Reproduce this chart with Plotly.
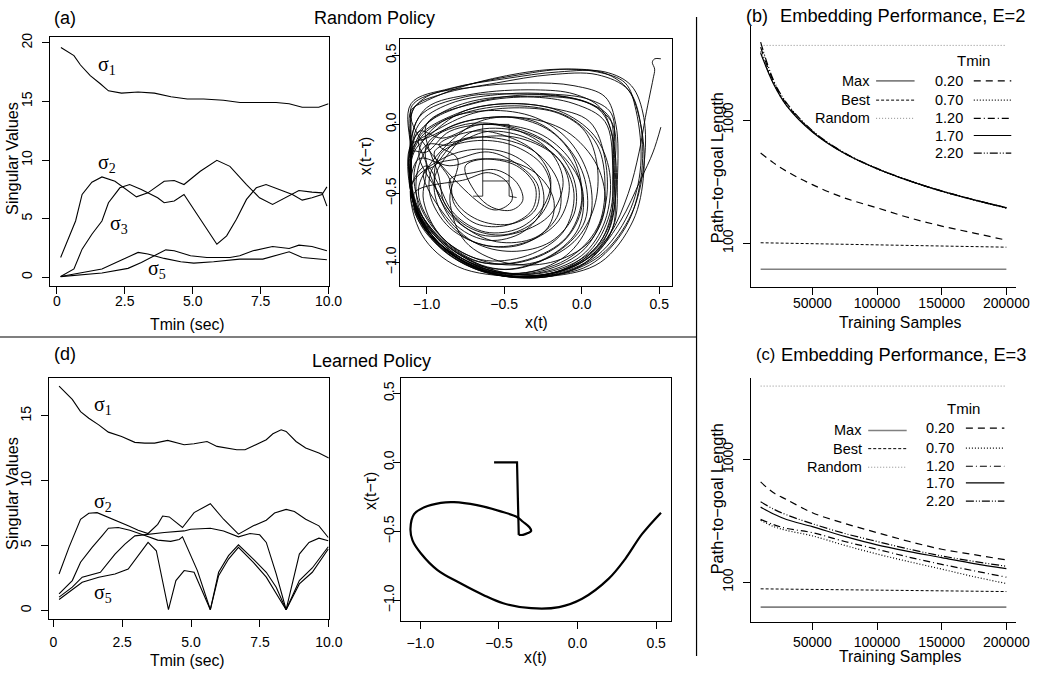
import plotly.graph_objects as go

W, H = 1045, 673
FONT = "Liberation Sans, Arial, sans-serif"
SERIF = "Liberation Serif, Times New Roman, serif"

# ---------------- (a) singular values, random policy ----------------
A_S1_T = [0.15, 0.63, 0.87, 1.23, 1.6, 1.9, 2.38, 2.99, 3.59, 4.2, 4.8, 5.4, 6.13, 6.74, 7.34, 8.07, 8.55, 9.03, 9.64, 10.0]
A_S1_V = [19.6, 18.9, 18.1, 17.2, 16.5, 15.9, 15.7, 15.8, 15.7, 15.4, 15.2, 15.2, 15.1, 14.9, 14.9, 14.9, 14.8, 14.5, 14.5, 14.8]
A_S2_T = [0.14, 0.69, 0.93, 1.29, 1.66, 2.14, 2.93, 3.35, 3.95, 4.32, 4.68, 5.28, 5.89, 6.37, 6.98, 7.46, 7.94, 8.55, 8.91, 9.39, 9.76, 9.94]
A_S2_V = [1.69, 4.8, 7.06, 8.11, 8.56, 8.19, 6.86, 7.2, 8.19, 8.25, 7.91, 9.04, 9.97, 9.46, 7.91, 6.78, 6.21, 6.92, 7.4, 7.26, 7.2, 6.07]
A_S3_T = [0.14, 0.63, 0.93, 1.29, 1.66, 1.9, 2.32, 2.68, 3.11, 3.71, 3.95, 4.32, 4.68, 5.16, 5.52, 5.89, 6.25, 6.61, 6.98, 7.34, 7.7, 8.19, 8.67, 9.03, 9.39, 9.76, 9.94]
A_S3_V = [0.06, 0.71, 2.4, 3.67, 4.8, 6.36, 7.63, 7.91, 7.49, 6.78, 6.36, 6.5, 7.06, 5.37, 4.1, 2.82, 3.53, 4.94, 6.64, 7.63, 7.91, 7.49, 7.06, 6.58, 6.78, 7.06, 7.71]
A_S4_T = [0.14, 0.93, 1.66, 2.14, 2.62, 2.99, 3.35, 3.95, 4.56, 5.04, 5.77, 6.73, 7.58, 8.19, 8.55, 9.03, 9.94]
A_S4_V = [0.06, 0.37, 0.71, 1.21, 1.69, 2.12, 1.98, 1.61, 1.33, 1.21, 1.33, 1.55, 1.55, 1.98, 2.18, 1.69, 1.5]
A_S5_T = [0.14, 0.93, 1.66, 2.62, 3.11, 3.71, 4.01, 4.32, 4.92, 5.52, 6.37, 6.73, 7.22, 7.94, 8.55, 8.91, 9.39, 9.94]
A_S5_V = [0.06, 0.2, 0.37, 0.76, 1.27, 1.98, 2.34, 2.26, 1.84, 1.69, 1.69, 1.84, 2.26, 2.63, 2.46, 2.74, 2.63, 2.26]

# ---------------- (d) singular values, learned policy ----------------
D_S1_T = [0.21, 0.69, 0.99, 1.29, 1.65, 2.0, 2.48, 2.96, 3.32, 3.68, 4.15, 4.51, 4.75, 5.11, 5.58, 5.94, 6.42, 6.66, 6.96, 7.49, 7.73, 7.97, 8.27, 8.45, 8.81, 9.16, 9.64, 10.0]
D_S1_V = [17.3, 16.28, 15.33, 14.82, 14.31, 13.75, 13.42, 12.96, 12.9, 12.9, 13.11, 12.9, 12.78, 12.85, 13.03, 12.65, 12.45, 12.39, 12.39, 12.9, 13.16, 13.62, 13.93, 13.8, 13.03, 12.52, 12.14, 11.76]
D_S2_T = [0.21, 0.57, 0.99, 1.29, 1.59, 1.89, 2.24, 2.72, 3.08, 3.44, 3.79, 3.97, 4.21, 4.69, 5.11, 5.7, 6.18, 6.72, 7.26, 7.73, 8.03, 8.45, 8.75, 9.16, 9.64, 9.98]
D_S2_V = [2.81, 4.86, 7.03, 7.49, 7.54, 7.28, 6.95, 6.52, 6.18, 5.93, 6.64, 7.28, 7.21, 6.39, 7.54, 8.23, 7.03, 5.88, 6.52, 6.95, 7.51, 7.79, 7.62, 7.03, 6.52, 5.62]
D_S3_T = [0.21, 0.69, 0.99, 1.41, 1.77, 2.0, 2.36, 2.78, 3.2, 3.79, 4.26, 4.57, 4.69, 5.23, 5.7, 6.0, 6.36, 6.72, 7.26, 7.73, 8.09, 8.45, 8.93, 9.28, 9.64, 9.98]
D_S3_V = [1.28, 2.3, 3.71, 4.86, 5.75, 6.34, 6.39, 6.18, 5.88, 5.42, 5.32, 5.47, 5.67, 3.07, 0.05, 2.94, 4.22, 5.06, 3.96, 2.94, 1.79, 0.05, 4.34, 5.24, 5.57, 5.37]
D_S4_T = [0.21, 0.69, 1.05, 1.71, 2.24, 2.6, 2.96, 3.44, 4.03, 4.75, 4.99, 5.7, 6.18, 6.72, 7.14, 7.49, 7.73, 8.09, 8.45, 8.93, 9.4, 9.98]
D_S4_V = [1.02, 1.79, 2.56, 2.94, 4.34, 5.11, 5.75, 5.88, 6.01, 6.13, 6.26, 6.34, 6.13, 5.67, 5.93, 5.83, 5.24, 2.81, 0.05, 2.3, 3.27, 4.91]
D_S5_T = [0.21, 1.05, 1.65, 2.24, 2.72, 3.08, 3.44, 3.74, 4.18, 4.45, 4.75, 5.11, 5.41, 5.7, 6.0, 6.36, 6.72, 7.26, 7.73, 8.45, 8.93, 9.4, 9.98]
D_S5_V = [0.84, 2.17, 2.56, 2.81, 3.19, 4.22, 5.24, 4.6, 0.05, 2.3, 3.07, 2.94, 1.53, 0.05, 2.68, 3.96, 4.86, 3.71, 2.56, 0.05, 2.04, 2.94, 4.73]

# ---------------- delay embeddings (x(t), x(t - tau)) ----------------
RANDOM_PATH = [
    (0.51, 0.475), (0.47, 0.475), (0.455, 0.45), (0.47, 0.4), (0.46, 0.33), (0.44, 0.22), (0.41, 0.05),
    (0.37, -0.2), (0.3, -0.5), (0.18, -0.8), (0.0, -1.02), (-0.25, -1.1), (-0.6, -1.08), (-0.88, -0.92),
    (-1.06, -0.65), (-1.1, -0.35), (-1.1, 0.0), (-1.1, 0.12),
    (-1.05, 0.18), (-0.8, 0.27), (-0.45, 0.35), (-0.1, 0.4), (0.15, 0.37), (0.3, 0.25), (0.38, 0.0),
    (0.4, -0.35), (0.33, -0.7), (0.12, -1.0), (-0.2, -1.1), (-0.58, -1.08), (-0.9, -0.88), (-1.08, -0.58),
    (-1.1, -0.2), (-1.1, 0.1),
    (-1.02, 0.16), (-0.75, 0.28), (-0.4, 0.37), (-0.15, 0.4), (0.1, 0.38), (0.28, 0.3), (0.35, 0.1),
    (0.38, -0.3), (0.3, -0.65), (0.1, -0.95), (-0.2, -1.1), (-0.55, -1.08), (-0.86, -0.92), (-1.06, -0.66),
    (-1.1, -0.3),
    (-1.05, 0.0), (-0.85, 0.15), (-0.5, 0.22), (-0.2, 0.22), (0.05, 0.18), (0.19, 0.08), (0.21, -0.2),
    (0.21, -0.6), (0.12, -0.88), (-0.1, -1.05), (-0.45, -1.1), (-0.78, -0.98), (-1.0, -0.75), (-1.1, -0.45),
    (-1.1, -0.15),
    (-0.95, 0.05), (-0.7, 0.17), (-0.35, 0.2), (-0.05, 0.15), (0.15, 0.02), (0.2, -0.3), (0.18, -0.65),
    (0.05, -0.92), (-0.2, -1.08), (-0.55, -1.06), (-0.83, -0.9), (-1.03, -0.66), (-1.1, -0.4), (-1.08, -0.15),
    (-0.95, -0.05), (-0.7, 0.08), (-0.4, 0.12), (-0.15, 0.08), (0.02, -0.05), (0.1, -0.3), (0.08, -0.6),
    (-0.05, -0.85), (-0.3, -1.0), (-0.6, -1.0), (-0.86, -0.86), (-1.03, -0.62), (-1.08, -0.35), (-1.0, -0.15),
    (-0.85, -0.15), (-0.6, -0.05), (-0.35, -0.1), (-0.15, -0.25), (-0.08, -0.45), (-0.15, -0.7),
    (-0.35, -0.85), (-0.6, -0.88), (-0.85, -0.75), (-0.98, -0.5), (-0.95, -0.3),
    (-0.8, -0.25), (-0.6, -0.2), (-0.4, -0.3), (-0.28, -0.45), (-0.3, -0.62), (-0.45, -0.72),
    (-0.65, -0.7), (-0.8, -0.58), (-0.85, -0.4),
    (-0.7, -0.35), (-0.55, -0.33), (-0.42, -0.42), (-0.38, -0.55), (-0.45, -0.62), (-0.58, -0.6), (-0.68, -0.5),
    (-0.75, -0.3), (-0.55, -0.25), (-0.3, -0.35), (-0.18, -0.55), (-0.22, -0.75), (-0.42, -0.88),
    (-0.7, -0.85), (-0.9, -0.65), (-0.95, -0.4), (-0.85, -0.2),
    (-0.7, -0.05), (-0.4, -0.05), (-0.15, -0.2), (0.0, -0.45), (-0.02, -0.75), (-0.2, -0.95), (-0.5, -1.05),
    (-0.78, -0.95), (-1.0, -0.72), (-1.1, -0.45), (-1.08, -0.2), (-0.95, -0.05),
    (-0.75, 0.1), (-0.45, 0.15), (-0.15, 0.1), (0.08, -0.08), (0.18, -0.35), (0.15, -0.7), (0.0, -0.95),
    (-0.3, -1.08), (-0.62, -1.05), (-0.9, -0.86), (-1.08, -0.58), (-1.1, -0.25), (-1.0, 0.0),
    (-0.8, 0.12), (-0.5, 0.2), (-0.2, 0.21), (0.05, 0.15), (0.2, 0.0), (0.21, -0.4), (0.2, -0.75),
    (0.05, -0.98), (-0.25, -1.1), (-0.58, -1.08), (-0.88, -0.9), (-1.07, -0.62), (-1.1, -0.3), (-1.05, -0.05),
    (-0.9, -0.1), (-0.65, 0.0), (-0.4, -0.05), (-0.2, -0.2), (-0.12, -0.42), (-0.2, -0.65), (-0.4, -0.78),
    (-0.65, -0.8), (-0.85, -0.65), (-0.95, -0.4),
    (-0.9, -0.2), (-0.7, -0.12), (-0.45, -0.15), (-0.25, -0.3), (-0.2, -0.5), (-0.3, -0.7), (-0.5, -0.8),
    (-0.72, -0.75), (-0.88, -0.58), (-0.92, -0.38),
    (-1.0, 0.0), (-0.7, 0.15), (-0.35, 0.2), (0.0, 0.17), (0.18, 0.05), (0.2, -0.25), (0.2, -0.6),
    (0.1, -0.88), (-0.15, -1.05), (-0.5, -1.08), (-0.82, -0.94), (-1.05, -0.7), (-1.1, -0.4), (-1.1, -0.1),
    (-1.0, 0.12), (-0.7, 0.22), (-0.3, 0.25), (-0.05, 0.22), (0.12, 0.12), (0.2, -0.1), (0.22, -0.5),
    (0.16, -0.8), (-0.05, -1.02), (-0.4, -1.1), (-0.72, -1.0), (-0.98, -0.8), (-1.1, -0.5), (-1.1, -0.2),
    (-1.08, 0.12), (-0.9, 0.22), (-0.55, 0.3), (-0.2, 0.36), (0.1, 0.36), (0.3, 0.25), (0.38, 0.0),
    (0.38, -0.4), (0.28, -0.75), (0.05, -1.02), (-0.3, -1.1), (-0.68, -1.05), (-0.96, -0.84), (-1.1, -0.5),
    (-1.1, -0.15),
    (-1.0, -0.1), (-0.75, 0.02), (-0.45, 0.05), (-0.2, -0.05), (-0.05, -0.25), (0.0, -0.55), (-0.1, -0.82),
    (-0.35, -0.98), (-0.65, -1.0), (-0.9, -0.85), (-1.05, -0.6), (-1.05, -0.3),
    (-0.9, -0.05), (-0.6, 0.05), (-0.3, 0.02), (-0.1, -0.15), (0.02, -0.4), (0.02, -0.7), (-0.15, -0.92),
    (-0.45, -1.05), (-0.76, -0.98), (-0.98, -0.76), (-1.1, -0.5), (-1.05, -0.25),
    (-0.85, -0.3), (-0.65, -0.25), (-0.42, -0.3), (-0.3, -0.45), (-0.32, -0.62), (-0.48, -0.73),
    (-0.68, -0.72), (-0.82, -0.58), (-0.85, -0.4),
    (-0.95, -0.2), (-0.7, -0.1), (-0.4, -0.1), (-0.15, -0.25), (-0.05, -0.5), (-0.12, -0.78), (-0.35, -0.95),
    (-0.65, -0.98), (-0.9, -0.82), (-1.02, -0.55), (-1.0, -0.3),
    (-1.05, -0.1), (-0.8, 0.08), (-0.5, 0.15), (-0.2, 0.12), (0.05, 0.02), (0.15, -0.25), (0.15, -0.6),
    (0.02, -0.9), (-0.25, -1.06), (-0.58, -1.07), (-0.87, -0.92), (-1.06, -0.66), (-1.1, -0.35),
    (-1.05, 0.05), (-0.75, 0.2), (-0.4, 0.22), (-0.1, 0.2), (0.1, 0.12), (0.19, -0.05), (0.2, -0.4),
    (0.18, -0.72), (0.02, -0.97), (-0.3, -1.1), (-0.64, -1.06), (-0.92, -0.88), (-1.08, -0.56), (-1.1, -0.2),
    (-1.1, 0.15), (-0.85, 0.26), (-0.5, 0.33), (-0.15, 0.38), (0.15, 0.38), (0.32, 0.28), (0.4, 0.05),
    (0.4, -0.3), (0.32, -0.65), (0.12, -0.95), (-0.2, -1.1), (-0.58, -1.08), (-0.9, -0.88), (-1.08, -0.58),
    (-1.1, -0.25),
    (-1.0, -0.05), (-0.7, 0.1), (-0.35, 0.13), (-0.08, 0.05), (0.1, -0.15), (0.15, -0.45), (0.1, -0.75),
    (-0.1, -0.98), (-0.45, -1.08), (-0.78, -0.98), (-1.02, -0.76), (-1.1, -0.45),
    (-0.9, -0.25), (-0.68, -0.18), (-0.45, -0.22), (-0.28, -0.38), (-0.25, -0.6), (-0.38, -0.78),
    (-0.6, -0.84), (-0.8, -0.74), (-0.92, -0.52),
    (-1.0, -0.15), (-0.75, 0.0), (-0.45, -0.02), (-0.2, -0.15), (-0.05, -0.4), (-0.05, -0.65), (-0.2, -0.85),
    (-0.45, -0.92), (-0.7, -0.85), (-0.92, -0.6), (-1.02, -0.35),
    (-0.95, -0.3), (-0.8, -0.12), (-0.55, -0.1), (-0.3, -0.2), (-0.15, -0.42), (-0.15, -0.65), (-0.3, -0.82),
    (-0.55, -0.85), (-0.78, -0.72), (-0.92, -0.5),
    (-1.05, -0.2), (-0.9, 0.02), (-0.6, 0.1), (-0.3, 0.05), (-0.08, -0.12), (0.05, -0.4), (0.05, -0.7),
    (-0.1, -0.95), (-0.4, -1.08), (-0.7, -1.0), (-0.95, -0.78), (-1.08, -0.5),
    (-0.75, -0.4), (-0.6, -0.35), (-0.48, -0.42), (-0.45, -0.55), (-0.55, -0.62), (-0.68, -0.55),
    (-1.1, 0.05), (-1.0, 0.2), (-0.7, 0.27), (-0.35, 0.3), (-0.05, 0.28), (0.15, 0.2), (0.22, 0.0),
    (0.23, -0.4), (0.2, -0.75), (0.0, -1.0), (-0.3, -1.1), (-0.65, -1.06), (-0.92, -0.86), (-1.08, -0.55),
    (-1.1, -0.2),
    (-1.0, -0.2), (-0.85, -0.05), (-0.55, 0.0), (-0.25, -0.08), (-0.05, -0.3), (0.0, -0.6), (-0.12, -0.85),
    (-0.4, -1.0), (-0.7, -0.98), (-0.95, -0.75), (-1.05, -0.45),
    (-0.7, 0.0), (-0.4, 0.05), (-0.1, -0.05), (0.1, -0.3), (0.15, -0.6), (0.05, -0.85), (-0.2, -1.0),
    (-0.5, -1.0), (-0.75, -0.85), (-0.85, -0.55), (-0.8, -0.25),
    (-0.92, -0.15), (-0.7, -0.05), (-0.5, -0.08), (-0.3, -0.2), (-0.2, -0.4), (-0.25, -0.6), (-0.4, -0.75),
    (-0.62, -0.78), (-0.82, -0.65), (-0.93, -0.42),
    (-1.0, -0.3), (-1.1, -0.45), (-1.03, -0.8), (-0.8, -1.03), (-0.4, -1.1), (-0.1, -1.05), (0.1, -0.92),
    (0.25, -0.7), (0.38, -0.4), (0.46, -0.2), (0.51, -0.02),
]
RANDOM_RESET_X = [-0.70, -0.638, -0.638, -0.468, -0.468, -0.42]
RANDOM_RESET_Y = [-0.52, -0.52, 0.0, 0.0, -0.52, -0.53]
RANDOM_RESET2_X = [-0.638, -0.468]
RANDOM_RESET2_Y = [-0.41, -0.41]

LEARNED_STEP_X = [-0.531, -0.385, -0.374]
LEARNED_STEP_Y = [0.0, 0.0, -0.525]
LEARNED_CURVE_X = [-0.374, -0.347, -0.316, -0.295, -0.306, -0.347, -0.385, -0.494, -0.64, -0.786, -0.87, -0.975,
                   -1.04, -1.063, -1.05, -0.996, -0.891, -0.745, -0.6, -0.473, -0.295, -0.117, 0.029, 0.197,
                   0.303, 0.41, 0.531]
LEARNED_CURVE_Y = [-0.525, -0.525, -0.512, -0.496, -0.47, -0.43, -0.395, -0.353, -0.31, -0.288, -0.293, -0.325,
                   -0.375, -0.48, -0.565, -0.66, -0.78, -0.876, -0.96, -1.02, -1.056, -1.048, -0.988, -0.844,
                   -0.7, -0.52, -0.364]

# ---------------- (b), (c) embedding performance ----------------
SAMPLES = [10000, 20000, 30000, 50000, 75000, 100000, 125000, 150000, 175000, 200000]
FLAT_X = [10000, 200000]
B_MAX = [61.6, 61.6]
B_BEST = [101, 93]
B_RANDOM = [4030, 4030]
B_T020 = [540, 449, 384, 299, 233, 194, 161, 138, 121, 106]
B_T070 = [3600, 1980, 1320, 805, 535, 401, 320, 264, 224, 193]
B_T120 = [3900, 2050, 1350, 810, 538, 403, 321, 265, 225, 194]
B_T170 = [3500, 1960, 1310, 800, 534, 402, 321, 265, 225, 194]
B_T220 = [4285, 2100, 1380, 820, 540, 405, 322, 266, 226, 195]

C_MAX = [62.7, 62.7]
C_BEST = [88.4, 84]
C_RANDOM = [3980, 3980]
C_T020 = [658, 536, 473, 369, 302, 254, 215, 186, 168, 152]
C_T070 = [320, 285, 265, 239, 200, 170, 147, 128, 111, 97.7]
C_T120 = [326, 295, 275, 254, 215, 186, 160, 140, 124, 110]
C_T170 = [410, 360, 325, 284, 237, 202, 178, 159, 142, 129]
C_T220 = [453, 395, 355, 300, 250, 215, 186, 164, 148, 135]

TMIN_LABELS = ["0.20", "0.70", "1.20", "1.70", "2.20"]
REF_LABELS = ["Max", "Best", "Random"]

DASH = {"0.20": "7px,5px", "0.70": "1px,2px", "1.20": "7px,3px,1px,3px", "1.70": "solid",
        "2.20": "8px,2px,1px,2px,1px,2px"}
REF_STYLE = {"Max": dict(color="#808080", width=1.6, dash="solid"),
             "Best": dict(color="black", width=1, dash="3px,2px"),
             "Random": dict(color="#8a8a8a", width=1, dash="1px,2px")}

fig = go.Figure()


def px2paper(x, y):
    return x / W, 1 - y / H


# domains (from pixel boxes)
DOM = {
    1: ((51, 333), (33.3, 283.3)),
    2: ((405, 681), (35, 283.3)),
    3: ((761, 1030), (21.7, 285)),
    4: ((50, 333.3), (376.7, 619)),
    5: ((406, 680), (376.7, 621)),
    6: ((761, 1030), (376.7, 621.7)),
}
XSTAND = {1: -4, 2: -1, 3: -4, 4: 3, 5: 2, 6: 0}
YSTAND = {1: 5, 2: -10, 3: 4, 4: 5, 5: -7, 6: 4}


def line(xs, ys, n, width=1.1, color="black", dash="solid", shape="linear"):
    fig.add_trace(go.Scatter(x=xs, y=ys, mode="lines", xaxis=f"x{n}" if n > 1 else "x",
                             yaxis=f"y{n}" if n > 1 else "y", hoverinfo="skip",
                             line=dict(color=color, width=width, dash=dash, shape=shape)))


for t, v in [(A_S1_T, A_S1_V), (A_S2_T, A_S2_V), (A_S3_T, A_S3_V), (A_S4_T, A_S4_V), (A_S5_T, A_S5_V)]:
    line(t, v, 1)
for t, v in [(D_S1_T, D_S1_V), (D_S2_T, D_S2_V), (D_S3_T, D_S3_V), (D_S4_T, D_S4_V), (D_S5_T, D_S5_V)]:
    line(t, v, 4)

rx = [p[0] for p in RANDOM_PATH]
ry = [p[1] for p in RANDOM_PATH]
line(rx, ry, 2, width=0.9, shape="spline")
line(RANDOM_RESET_X, RANDOM_RESET_Y, 2, width=0.8)
line(RANDOM_RESET2_X, RANDOM_RESET2_Y, 2, width=0.8)
line(LEARNED_STEP_X, LEARNED_STEP_Y, 5, width=2.2)
line(LEARNED_CURVE_X, LEARNED_CURVE_Y, 5, width=2.2, shape="spline")

for n, mx, best, rnd, curves in [
    (3, B_MAX, B_BEST, B_RANDOM, [B_T020, B_T070, B_T120, B_T170, B_T220]),
    (6, C_MAX, C_BEST, C_RANDOM, [C_T020, C_T070, C_T120, C_T170, C_T220]),
]:
    line(FLAT_X, rnd, n, **REF_STYLE["Random"])
    line(FLAT_X, mx, n, **REF_STYLE["Max"])
    line(FLAT_X, best, n, **REF_STYLE["Best"])
    for lab, vals in zip(TMIN_LABELS, curves):
        line(SAMPLES, vals, n, width=1.2, dash=DASH[lab], shape="spline")

axis_common = dict(showgrid=False, zeroline=False, showline=True, linecolor="black", linewidth=1,
                   ticks="outside", ticklen=7, tickwidth=1, tickcolor="black",
                   tickfont=dict(family=FONT, size=14, color="black"))

layout = dict(width=W, height=H, autosize=False, margin=dict(l=0, r=0, t=0, b=0), paper_bgcolor="white",
              plot_bgcolor="white", showlegend=False)

ranges = {
    1: ([-0.24, 10.0], [-0.71, 20.48]),
    2: ([-1.174, 0.581], [-1.168, 0.62]),
    3: ([2400, 207600], [1.643, 3.766]),
    4: ([-0.143, 10.0], [-0.69, 17.89]),
    5: ([-1.126, 0.594], [-1.151, 0.608]),
    6: ([2400, 207600], [1.676, 3.662]),
}
for n in range(1, 7):
    (x0, x1), (y0, y1) = DOM[n]
    xd = [x0 / W, x1 / W]
    yd = [1 - y1 / H, 1 - y0 / H]
    xa = dict(axis_common, domain=xd, range=ranges[n][0], anchor=f"y{n}" if n > 1 else "y",
              ticklabelstandoff=XSTAND[n])
    ya = dict(axis_common, domain=yd, range=ranges[n][1], anchor=f"x{n}" if n > 1 else "x", tickangle=-90,
              ticklabelstandoff=YSTAND[n])
    if n in (1, 4):
        xa.update(tickvals=[0, 2.5, 5, 7.5, 10], ticktext=["0", "2.5", "5.0", "7.5", "10.0"], mirror=True)
        ya.update(tickvals=[0, 5, 10, 15, 20] if n == 1 else [0, 5, 10, 15], mirror=True)
    elif n in (2, 5):
        xa.update(tickvals=[-1.0, -0.5, 0.0, 0.5], tickformat=".1f", mirror=True)
        ya.update(tickvals=[-1.0, -0.5, 0.0, 0.5], tickformat=".1f", mirror=True)
    else:
        xa.update(tickvals=[50000, 100000, 150000, 200000], ticktext=["50000", "100000", "150000", "200000"])
        ya.update(type="log", tickvals=[100, 1000], ticktext=["100", "1000"])
    layout["xaxis" if n == 1 else f"xaxis{n}"] = xa
    layout["yaxis" if n == 1 else f"yaxis{n}"] = ya

fig.update_layout(**layout)

ann = []


def text(x, y, s, size=15, angle=0, xanchor="center", family=FONT, ref="paper", xref=None, yref=None):
    if ref == "paper":
        px, py = px2paper(x, y)
        ann.append(dict(x=px, y=py, xref="paper", yref="paper", text=s, showarrow=False, textangle=angle,
                        xanchor=xanchor, yanchor="middle", font=dict(family=family, size=size, color="black")))
    else:
        ann.append(dict(x=x, y=y, xref=xref, yref=yref, text=s, showarrow=False, xanchor=xanchor,
                        yanchor="middle", font=dict(family=family, size=size, color="black")))


# panel titles
text(66, 14, "(a)", 18)
text(380, 14, "Random Policy", 18)
text(66, 352, "(d)", 18)
text(377, 359, "Learned Policy", 18)
text(767, 12, "(b)", 18)
text(915, 12, "Embedding Performance, E=2", 18.3)
text(776, 352, "(c)", 16.5)
text(916, 353, "Embedding Performance, E=3", 18.3)

# axis titles
text(12, 155, "Singular Values", 16.3, -90)
text(190, 322, "Tmin (sec)", 15.8)
text(370, 153, "x(t−τ)", 15.8, -90)
text(544, 320, "x(t)", 15.8)
text(727, 165, "Path−to−goal Length", 16.3, -90)
text(912, 320, "Training Samples", 15.8)
text(12, 492, "Singular Values", 16.3, -90)
text(190, 660, "Tmin (sec)", 15.8)
text(375, 490, "x(t−τ)", 15.8, -90)
text(543, 657, "x(t)", 15.8)
text(727, 498, "Path−to−goal Length", 16.3, -90)
text(912, 656, "Training Samples", 15.8)

# sigma labels (data coords)
for s, xv, yv, xr, yr in [("σ<sub>1</sub>", 1.85, 18.1, "x", "y"), ("σ<sub>2</sub>", 1.85, 9.7, "x", "y"),
                          ("σ<sub>3</sub>", 2.3, 4.5, "x", "y"), ("σ<sub>5</sub>", 3.7, 0.7, "x", "y"),
                          ("σ<sub>1</sub>", 1.8, 15.8, "x4", "y4"), ("σ<sub>2</sub>", 1.8, 8.3, "x4", "y4"),
                          ("σ<sub>5</sub>", 1.8, 1.3, "x4", "y4")]:
    text(xv, yv, s, 20, family=SERIF, ref="data", xref=xr, yref=yr)

shapes = []
# legends
for n, lx0, lx1, rx0, rx1, ltxt, rtxt, tminx, tminy, lrows, rrows in [
    (3, 888, 927, 987, 1025, 884, 978, 987, 56.7, [77.3, 96.7, 115], [77.3, 96.7, 115, 132.3, 150]),
    (6, 880, 919, 979, 1018, 876, 968.7, 977, 406.7, [429, 447.3, 466], [426.7, 446.7, 465, 481.7, 500]),
]:
    for lab, yy in zip(REF_LABELS, lrows):
        st = REF_STYLE[lab]
        x0, y0 = px2paper(lx0, yy)
        x1, _ = px2paper(lx1, yy)
        shapes.append(dict(type="line", xref="paper", yref="paper", x0=x0, x1=x1, y0=y0, y1=y0,
                           line=dict(color=st["color"], width=st["width"], dash=st["dash"])))
        text(ltxt, yy, lab, 14.5, xanchor="right")
    text(tminx, tminy, "Tmin", 15)
    for lab, yy in zip(TMIN_LABELS, rrows):
        x0, y0 = px2paper(rx0, yy)
        x1, _ = px2paper(rx1, yy)
        shapes.append(dict(type="line", xref="paper", yref="paper", x0=x0, x1=x1, y0=y0, y1=y0,
                           line=dict(color="black", width=1.2, dash=DASH[lab])))
        text(rtxt, yy, lab, 14.5, xanchor="right")

# separators
for (xa, ya, xb, yb) in [(706, 13, 706, 656), (0, 335, 706, 335)]:
    p0 = px2paper(xa, ya)
    p1 = px2paper(xb, yb)
    shapes.append(dict(type="line", xref="paper", yref="paper", x0=p0[0], y0=p0[1], x1=p1[0], y1=p1[1],
                       line=dict(color="black", width=1.2)))

fig.update_layout(annotations=ann, shapes=shapes)
fig.write_html(
    "out.html", config={"displayModeBar": False, "responsive": False},
    post_script=("document.documentElement.style.overflow='hidden';document.body.style.overflow='hidden';"
                 "document.body.style.margin='0';document.body.style.padding='0';"),
)
